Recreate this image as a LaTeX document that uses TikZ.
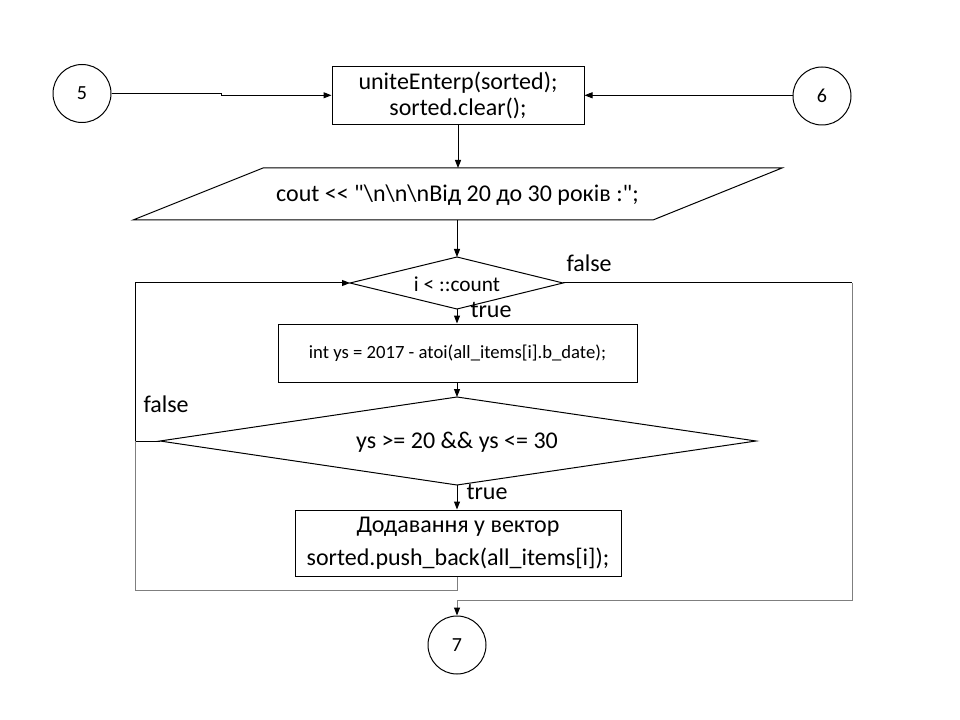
\documentclass[tikz,border=0pt]{standalone}
\usepackage{fontspec}
\setmainfont{Carlito}[Ligatures=TeXOff]
\usetikzlibrary{arrows.meta}
\definecolor{lgray}{RGB}{127,127,127}
\begin{document}
\begin{tikzpicture}[x=0.75pt,y=-0.75pt,line width=0.75pt,
  arr/.style={-{Triangle[length=6pt,width=4.5pt,color=black]}},
  box/.style={draw,rectangle,inner sep=0pt,align=center},
  conn/.style={draw,circle,minimum size=43.5pt,inner sep=0pt,font=\fontsize{15}{17}\selectfont},
  txt/.style={inner sep=0pt,align=center},
  lbl/.style={inner sep=0pt,font=\fontsize{18}{20}\selectfont}]
\useasboundingbox (0,0) rectangle (960,720);

% connectors (circles)
\node[conn] (c5) at (82,93.5) {5};
\node[conn] (c6) at (822,96) {6};
\node[conn] (c7) at (457,645) {7};

% box 1
\node[box,minimum width=189pt,minimum height=43.5pt,font=\fontsize{18}{19.5}\selectfont] (b1) at (458,95.3) {uniteEnterp(sorted);\\sorted.clear();};

% parallelogram
\draw (263,168) coordinate (pTL) -- (782,168) -- (653,220) -- (133,220) -- cycle;
\coordinate (ptop) at (457,168);
\coordinate (pbot) at (457,220);
\node[txt,font=\fontsize{18}{20}\selectfont] (pt) at (457.5,195) {cout << "\textbackslash n\textbackslash n\textbackslash nВід 20 до 30 років :";};

% diamond 1
\draw (457,257) coordinate (d1n) -- (563,283) coordinate (d1e) -- (457,309) coordinate (d1s) -- (350,283) coordinate (d1w) -- cycle;
\node[txt,font=\fontsize{16}{18}\selectfont] (d1t) at (457,284) {i < ::count};

% box 2
\node[box,minimum width=269.25pt,minimum height=43.5pt,font=\fontsize{14}{16}\selectfont] (b2) at (457.5,353) {int ys = 2017 - atoi(all\_items[i].b\_date);};

% diamond 2
\draw (457,397) coordinate (d2n) -- (756,441) coordinate (d2e) -- (457,485) coordinate (d2s) -- (160,441) coordinate (d2w) -- cycle;
\node[txt,font=\fontsize{18}{20}\selectfont] (d2t) at (457,442) {ys >= 20 \&\& ys <= 30};

% box 3
\node[box,minimum width=244.5pt,minimum height=49.5pt,font=\fontsize{18}{25}\selectfont] (b3) at (458,543) {Додавання у вектор\\sorted.push\_back(all\_items[i]);};

% helper coordinates
\coordinate (j5) at (221,93.5);
\coordinate (j6) at (688,96);
\coordinate (rt) at (852,283);
\coordinate (rb) at (852,600.5);
\coordinate (mb) at (457,600.5);
\coordinate (lt) at (135,283);
\coordinate (lm) at (135,441);
\coordinate (lb) at (135,590);
\coordinate (bb) at (457,590);

% arrows
\draw[arr] (c5.east) -- (j5) |- (b1.west);
\draw[arr] (c6.west) -- (j6) |- (b1.east);
\draw[arr] (b1.south) -- (b1.south |- ptop);
\draw[arr] (pbot) -- (d1n);
\draw[arr] (d1s) -- (b2.north -| d1s);
\draw[arr] (b2.south -| d2n) -- (d2n);
\draw[arr] (d2s) -- (b3.north -| d2s);
\draw (d1e) -- (rt);
\draw[lgray,arr] (rt) -- (rb) -- (mb) -- (c7.north);
\draw[arr] (d2w) -- (lm) -- (lt) -- (d1w);
\draw[lgray] (b3.south -| bb) -- (bb) -- (lb) -- (lm);

% labels
\node[lbl,anchor=base west] (f1) at (566,272) {false};
\node[lbl,anchor=base west] (t1) at (470,317) {true};
\node[lbl,anchor=base west] (f2) at (143,412) {false};
\node[lbl,anchor=base west] (t2) at (466,499) {true};
\end{tikzpicture}
\end{document}
